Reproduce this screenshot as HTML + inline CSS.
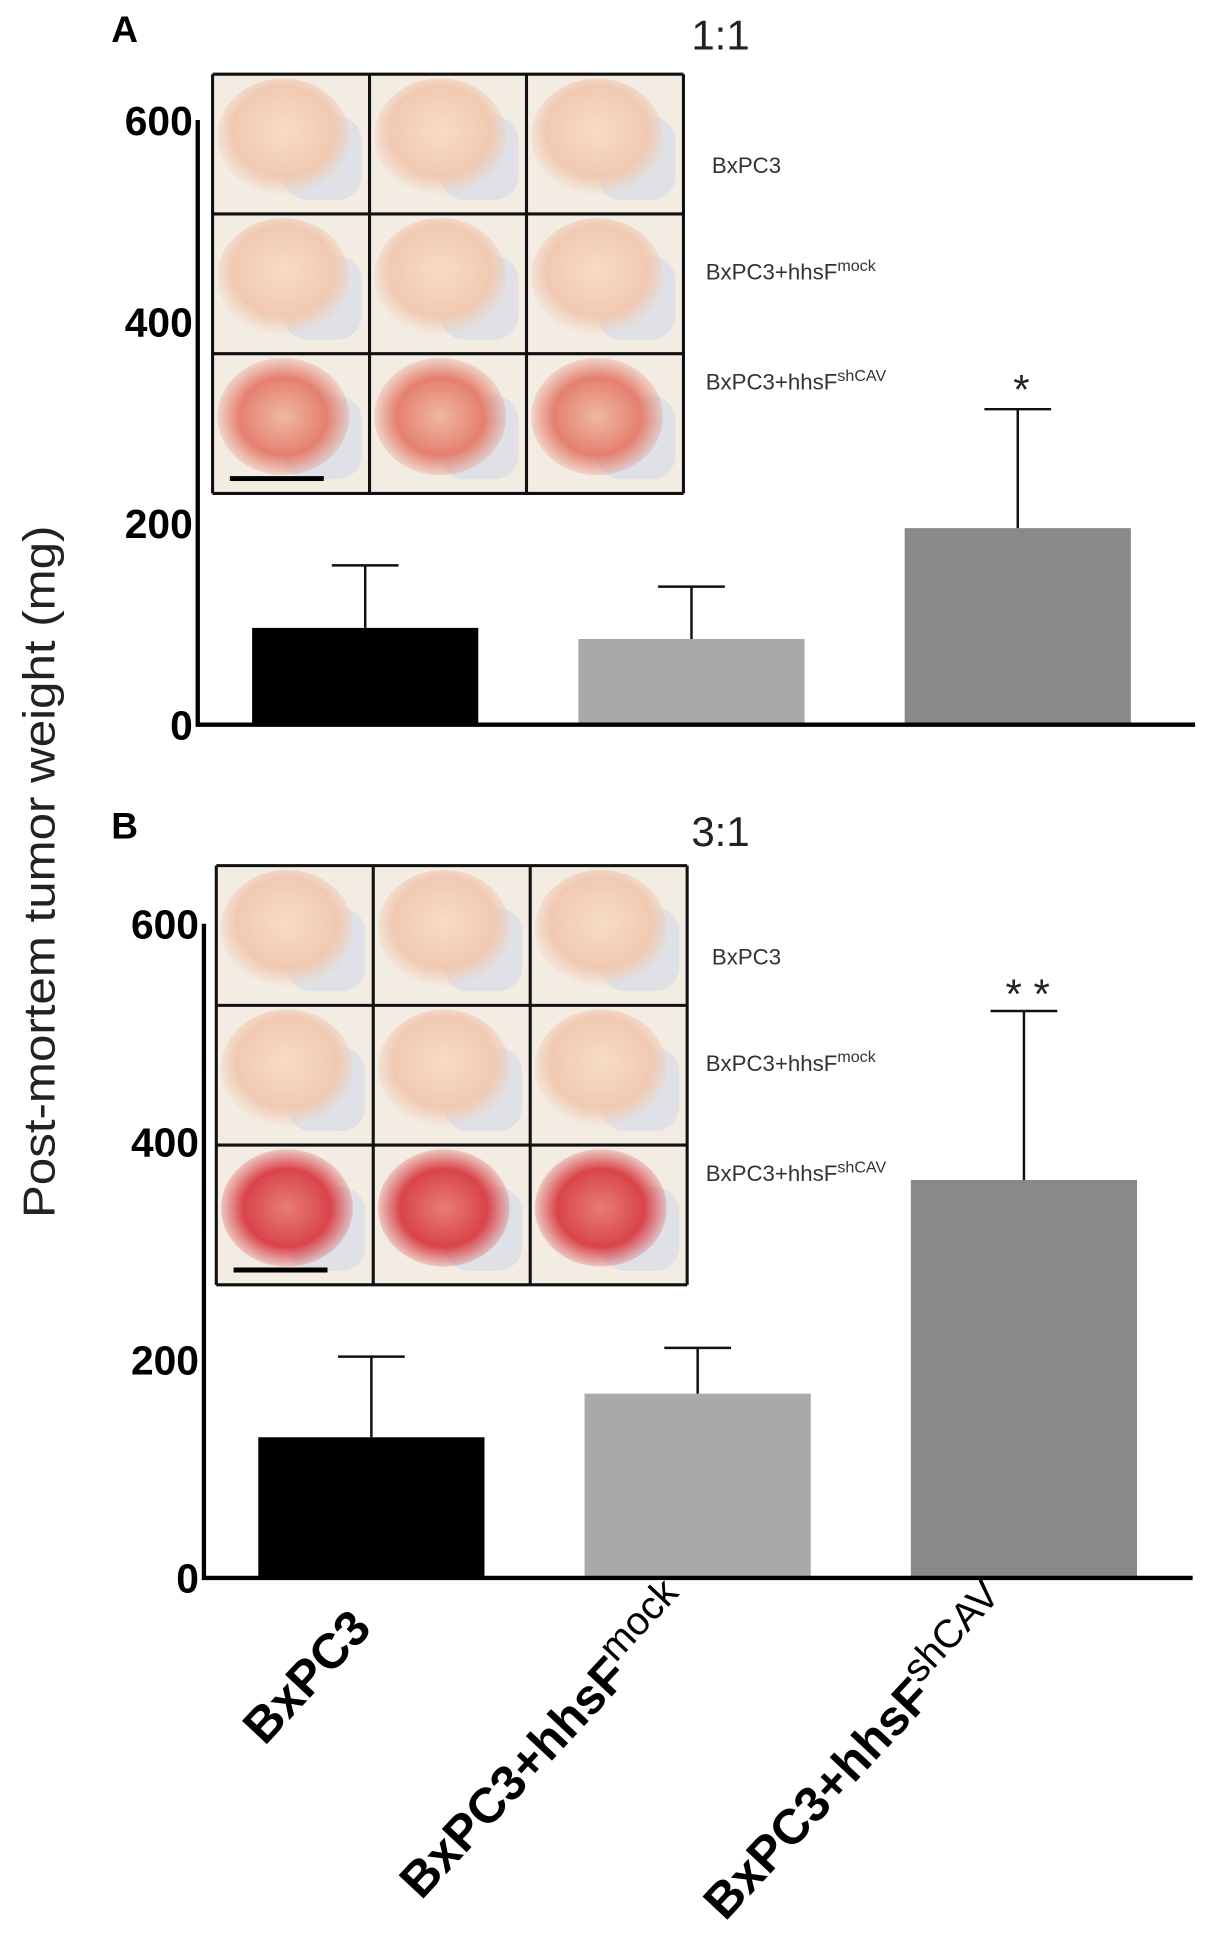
<!DOCTYPE html>
<html><head><meta charset="utf-8"><style>
html,body{margin:0;padding:0;background:#fff;}
svg{display:block;font-family:"Liberation Sans",Arial,sans-serif;}
</style></head><body>
<svg id="fig" width="1205" height="1939" viewBox="0 0 975 1568" preserveAspectRatio="none" xmlns="http://www.w3.org/2000/svg">
<defs>
<radialGradient id="tPale" cx="50%" cy="45%" r="55%"><stop offset="0" stop-color="#f7dcc4"/><stop offset="0.7" stop-color="#f1c9b2"/><stop offset="1" stop-color="#f1c9b2" stop-opacity="0"/></radialGradient>
<radialGradient id="tRed" cx="50%" cy="50%" r="55%"><stop offset="0" stop-color="#f0b8a2"/><stop offset="0.6" stop-color="#e5806f"/><stop offset="1" stop-color="#e5806f" stop-opacity="0"/></radialGradient>
<radialGradient id="tDeep" cx="50%" cy="50%" r="55%"><stop offset="0" stop-color="#e87d76"/><stop offset="0.6" stop-color="#d9444a"/><stop offset="1" stop-color="#d9444a" stop-opacity="0"/></radialGradient>
</defs>
<text transform="translate(44,705) rotate(-90)" text-anchor="middle" font-size="36" textLength="560" lengthAdjust="spacingAndGlyphs" fill="#222">Post-mortem tumor weight (mg)</text>
<g id="panelA"></g>
<g id="panelB"></g>
<g id="xlabels"></g>
</svg>
<script>
const categories = ["BxPC3", "BxPC3+hhsF mock", "BxPC3+hhsF shCAV"];
const valuesA = [96, 85, 195];
const errorsA = [62, 52, 118];
const valuesB = [129, 169, 365];
const errorsB = [74, 42, 155];
const yTicks = [0, 200, 400, 600];
const sigA = ["", "", "*"];
const sigB = ["", "", "**"];
const colors = ["#000000", "#a9a9a9", "#898989"];
const NS = "http://www.w3.org/2000/svg";
function mk(tag, attrs, parent){const e=document.createElementNS(NS,tag);for(const k in attrs)e.setAttribute(k,attrs[k]);parent.appendChild(e);return e;}

function drawPanel(g, cfg, values, errors, sig, letter, ratio, palette){
  const y = v => cfg.y0 - v/600*(cfg.y0-cfg.y600);
  const barX = i => cfg.x0 + 44 + i*264;
  const bw = 183;
  let t = mk("text",{x:cfg.letterX,y:cfg.letterY,"font-size":30,"font-weight":"bold"},g);
  
  
  t.textContent = letter;
  t = mk("text",{x:583,y:cfg.letterY+6,"font-size":34,"text-anchor":"middle",fill:"#222"},g);
  
  
  t.textContent = ratio;
  values.forEach((v,i)=>{
    const top = y(v), et = y(v+errors[i]), cx = barX(i)+bw/2;
    const b = mk("rect",{x:barX(i),y:top,width:bw,height:cfg.y0-top,fill:colors[i]},g);
    
    
    const e = mk("path",{d:`M${cx},${top} V${et} M${cx-27},${et} H${cx+27}`,stroke:"#111","stroke-width":2,fill:"none"},g);
    
    
    if(sig[i]){
      const s = mk("text",{x:cx+3,y:et-(sig[i].length>1?2:4),"font-size":34,"text-anchor":"middle",fill:"#222"},g);
      
      
      s.textContent = sig[i].split("").join(" ");
    }
  });
  const ax = mk("path",{d:`M${cfg.x0},${cfg.y600} V${cfg.y0} H${cfg.xEnd}`,stroke:"#000","stroke-width":3.5,fill:"none"},g);
  
  
  yTicks.forEach(v=>{
    const tk = mk("text",{x:cfg.x0-4,y:y(v)+12,"font-size":33,"font-weight":"bold","text-anchor":"end"},g);
    
    
    tk.textContent = v;
  });
  const ins = mk("g",{},g);
  
  
  const ix=cfg.ix, iy=cfg.iy, cw=127, ch=113;
  for(let r=0;r<3;r++)for(let c=0;c<3;c++){
    const cxp=ix+c*cw, cyp=iy+r*ch;
    mk("rect",{x:cxp,y:cyp,width:cw,height:ch,fill:"#f3ece2"},ins);
    mk("rect",{x:cxp+cw*0.45,y:cyp+ch*0.3,width:cw*0.5,height:ch*0.6,fill:"#dfe1e6",rx:20},ins);
    mk("ellipse",{cx:cxp+cw*0.45,cy:cyp+ch*0.45,rx:cw*0.42,ry:ch*0.42,fill:`url(#${palette[r]})`},ins);
  }
  mk("line",{x1:ix+14,y1:iy+3*ch-12,x2:ix+90,y2:iy+3*ch-12,stroke:"#000","stroke-width":4},ins);
  for(let k=0;k<=3;k++){
    mk("line",{x1:ix+k*cw,y1:iy,x2:ix+k*cw,y2:iy+3*ch,stroke:"#111","stroke-width":2.5},ins);
    mk("line",{x1:ix,y1:iy+k*ch,x2:ix+3*cw,y2:iy+k*ch,stroke:"#111","stroke-width":2.5},ins);
  }
  const labs=[["BxPC3",""],["BxPC3+hhsF","mock"],["BxPC3+hhsF","shCAV"]];
  const ly=[cfg.iy+80, cfg.iy+166, cfg.iy+255];
  labs.forEach((l,k)=>{
    const tt = mk("text",{x:k==0?576:571,y:ly[k],"font-size":18,fill:"#333"},g);
    
    
    tt.textContent=l[0];
    if(l[1]){const ts=mk("tspan",{"font-size":13,dy:-7},tt);ts.textContent=l[1];}
  });
}
drawPanel(document.getElementById("panelA"),{x0:160,xEnd:967,y0:586,y600:97,letterX:90,letterY:34,ix:172,iy:60},valuesA,errorsA,sigA,"A","1:1",["tPale","tPale","tRed"]);
drawPanel(document.getElementById("panelB"),{x0:165,xEnd:965,y0:1276,y600:747,letterX:90,letterY:678,ix:175,iy:700},valuesB,errorsB,sigB,"B","3:1",["tPale","tPale","tDeep"]);

const xl = document.getElementById("xlabels");
const labelEnds = [[302,1318],[562,1300],[822,1302]];
const mainTxt = ["BxPC3","BxPC3+hhsF","BxPC3+hhsF"];
const supTxt = ["","mock","shCAV"];
categories.forEach((c,i)=>{
  const t = mk("text",{transform:`translate(${labelEnds[i][0]},${labelEnds[i][1]}) rotate(-47)`,"text-anchor":"end","font-size":40,"font-weight":"bold"},xl);
  
  
  t.appendChild(document.createTextNode(mainTxt[i]));
  if(supTxt[i]){const s=mk("tspan",{"font-size":32,"font-weight":"normal",dy:-16},t);s.textContent=supTxt[i];}
});
</script>
</body></html>
